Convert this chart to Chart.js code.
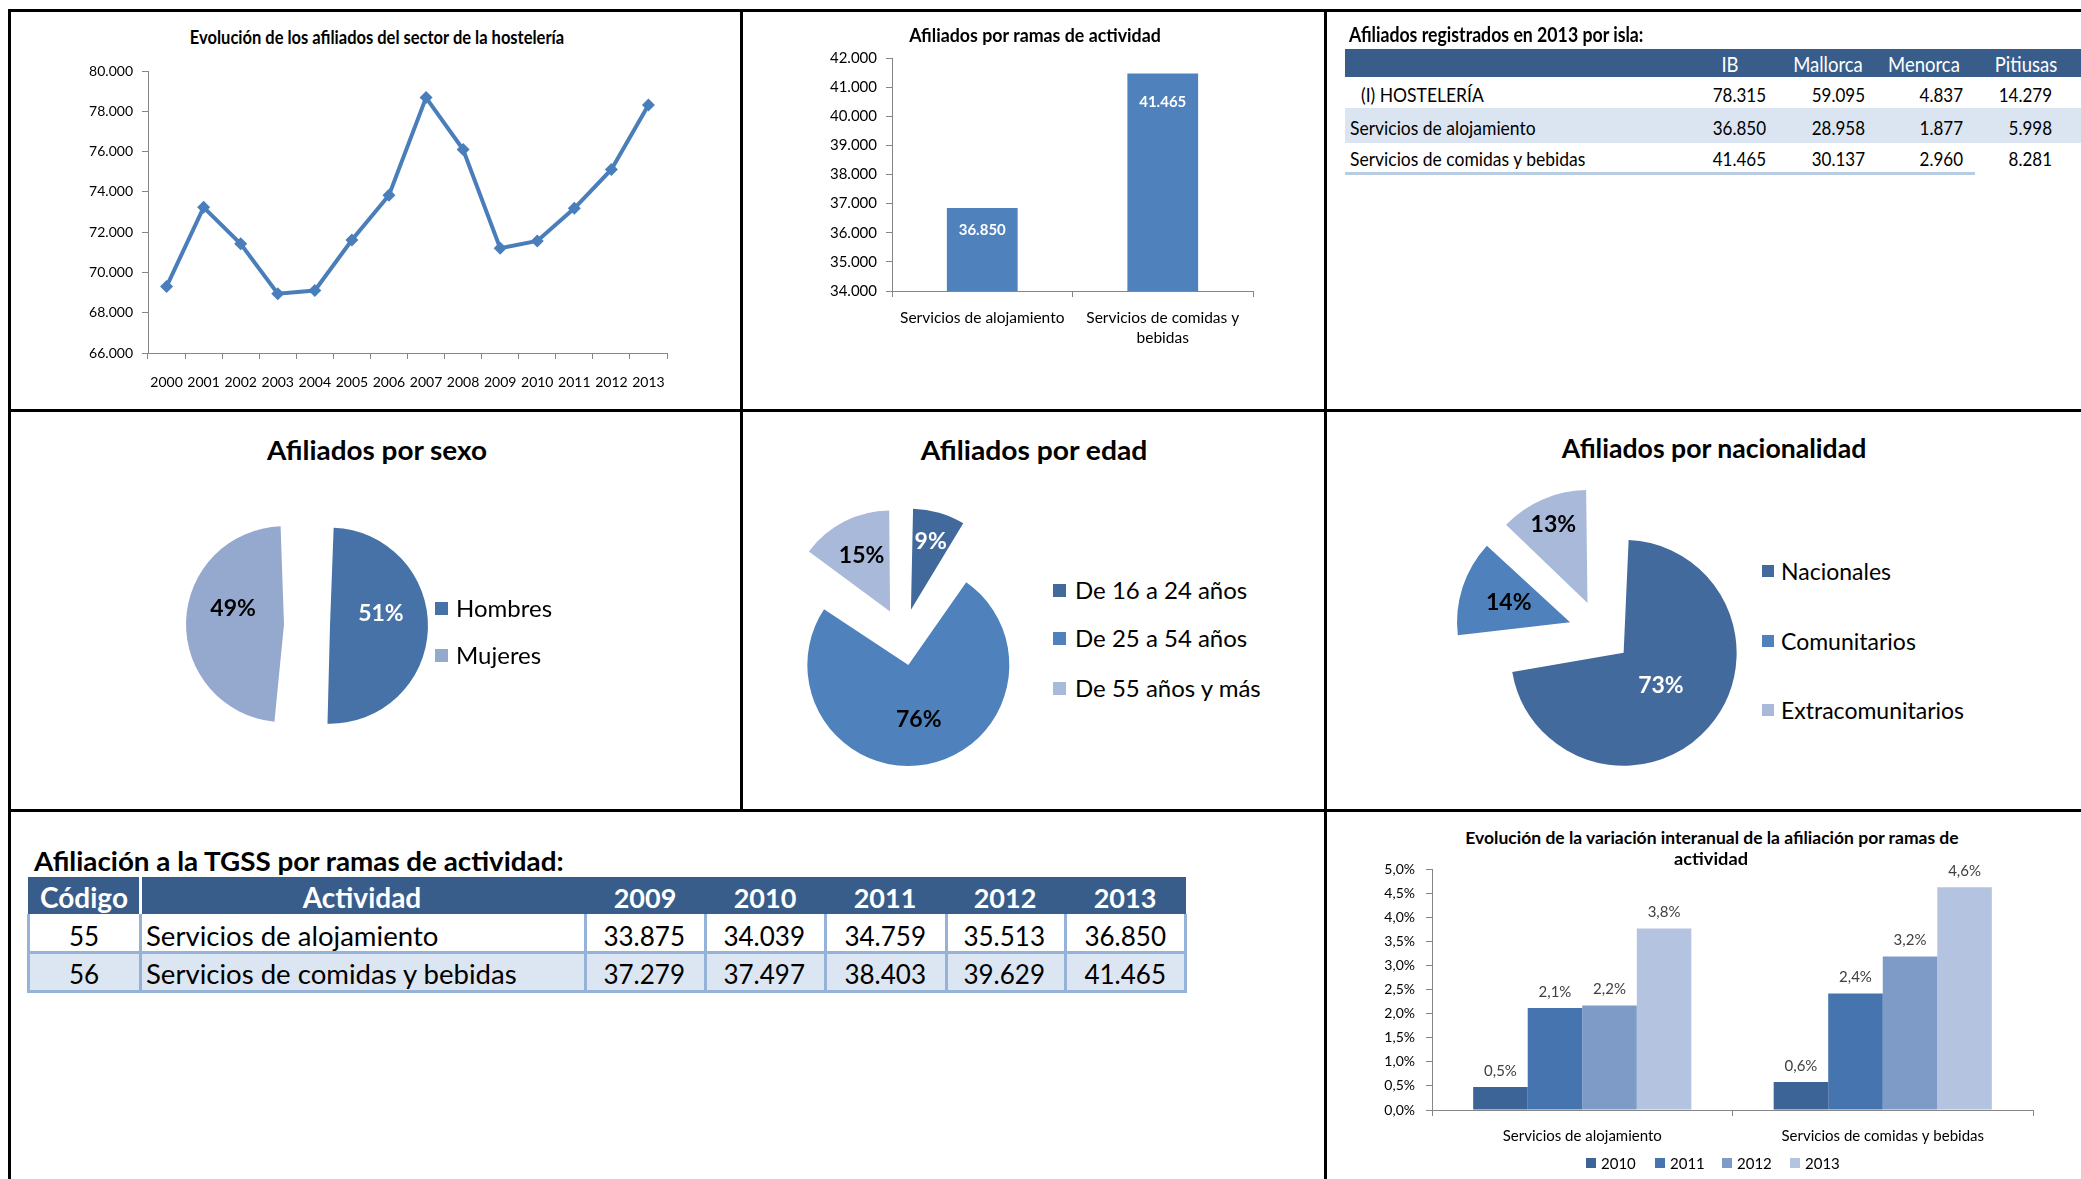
<!DOCTYPE html>
<html lang="es">
<head>
<meta charset="utf-8">
<title>Afiliados del sector de la hostelería</title>
<script src="https://cdn.jsdelivr.net/npm/chart.js@4.4.1/dist/chart.umd.min.js"></script>
<style>
  html, body { margin: 0; padding: 0; background: #fff; }
  body { position: relative; width: 2081px; height: 1179px; overflow: hidden; font-family: Lato, 'Noto Sans', sans-serif; }
  canvas { position: absolute; }
  .t { position: absolute; white-space: nowrap; line-height: 1; z-index: 2; }
  .r { position: absolute; z-index: 1; }
</style>
</head>
<body>
<canvas id="cLinea" width="680" height="340" style="left:20px;top:50px"></canvas>
<canvas id="cRamas" width="570" height="330" style="left:750px;top:40px"></canvas>
<canvas id="cSexo" width="300" height="300" style="left:157px;top:475px"></canvas>
<canvas id="cEdad" width="320" height="320" style="left:743px;top:477px"></canvas>
<canvas id="cNac" width="320" height="320" style="left:1440px;top:472px"></canvas>
<canvas id="cVar" width="740" height="329" style="left:1335px;top:850px"></canvas>
<script>
// Datos
const years = ['2000', '2001', '2002', '2003', '2004', '2005', '2006', '2007', '2008', '2009', '2010', '2011', '2012', '2013'];
const afiliadosTotal = [69300, 73230, 71420, 68940, 69100, 71610, 73830, 78680, 76100, 71200, 71560, 73180, 75110, 78315];

const ramasEje = [['Servicios de alojamiento'], ['Servicios de comidas y', 'bebidas']];
const afiliadosRamas = [36850, 41465];

const islas = ['IB', 'Mallorca', 'Menorca', 'Pitiusas'];
const filasIsla = ['(I) HOSTELERÍA', 'Servicios de alojamiento', 'Servicios de comidas y bebidas'];
const islaHosteleria = [78315, 59095, 4837, 14279];
const islaAlojamiento = [36850, 28958, 1877, 5998];
const islaComidas = [41465, 30137, 2960, 8281];

const sexos = ['Hombres', 'Mujeres'];
const pctSexo = [51, 49];
const edades = ['De 16 a 24 años', 'De 25 a 54 años', 'De 55 años y más'];
const pctEdad = [9, 76, 15];
const nacionalidades = ['Nacionales', 'Comunitarios', 'Extracomunitarios'];
const pctNacionalidad = [73, 14, 13];

const tgssAnios = ['2009', '2010', '2011', '2012', '2013'];
const tgssCodigos = ['55', '56'];
const tgssActividades = ['Servicios de alojamiento', 'Servicios de comidas y bebidas'];
const tgssAlojamiento = [33875, 34039, 34759, 35513, 36850];
const tgssComidas = [37279, 37497, 38403, 39629, 41465];

const variacionRamas = ['Servicios de alojamiento', 'Servicios de comidas y bebidas'];
const variacionAnios = ['2010', '2011', '2012', '2013'];
const variacionAlojamiento = [0.48, 2.12, 2.17, 3.77];
const variacionComidas = [0.58, 2.42, 3.19, 4.63];

// Estilos
const ejeColor = '#868686';
const azulLinea = '#4A7EBB';
const azulBarra = '#4F81BD';
const cabeceraTabla = '#385D8A';
const coloresSexo = ['#4672A8', '#95A9CF'];
const coloresEdad = ['#41699C', '#4F81BD', '#A9B9D9'];
const coloresNac = ['#426A9C', '#4F81BD', '#A9B9D9'];
const coloresVar = ['#3C6496', '#4674AE', '#7E9BC8', '#B4C3DF'];

Chart.defaults.font.family = "Lato, 'Noto Sans', sans-serif";
Chart.defaults.color = '#000';

function fmtMiles(n) {
  return String(n).replace(/\B(?=(\d{3})+(?!\d))/g, '.');
}
function fmtPct(v) {
  return v.toFixed(1).replace('.', ',') + '%';
}

// Texto posicionado (x,y = ancla, y centrada)
function txt(str, x, y, o = {}) {
  const d = document.createElement('div');
  d.className = 't';
  d.textContent = str;
  d.style.left = x + 'px';
  d.style.top = y + 'px';
  d.style.fontSize = (o.size || 14) + 'px';
  d.style.fontWeight = o.bold ? '700' : '400';
  d.style.color = o.color || '#000';
  document.body.appendChild(d);
  const align = o.align || 'left';
  let sx = o.sx || 1;
  if (o.w) sx = o.w / d.offsetWidth;
  const tx = align === 'left' ? '0' : align === 'right' ? '-100%' : '-50%';
  const ox = align === 'left' ? '0' : align === 'right' ? '100%' : '50%';
  d.style.transformOrigin = ox + ' 50%';
  d.style.transform = 'translate(' + tx + ', -50%) scaleX(' + sx + ')';
}

function rect(x, y, w, h, color) {
  const d = document.createElement('div');
  d.className = 'r';
  d.style.left = x + 'px';
  d.style.top = y + 'px';
  d.style.width = w + 'px';
  d.style.height = h + 'px';
  d.style.background = color;
  document.body.appendChild(d);
}

// Marco de paneles
rect(8, 9, 2073, 3, '#000');
rect(8, 409, 2073, 3, '#000');
rect(8, 809, 2073, 3, '#000');
rect(8, 9, 3, 1170, '#000');
rect(740, 9, 3, 802, '#000');
rect(1324, 9, 3, 1170, '#000');

// Etiquetas de barras
function barLabels(o) {
  return {
    id: 'barLabels',
    afterDatasetsDraw(chart) {
      const ctx = chart.ctx;
      ctx.save();
      ctx.font = (o.bold ? 'bold ' : '') + o.size + 'px Lato';
      ctx.fillStyle = o.color;
      ctx.textAlign = 'center';
      ctx.textBaseline = 'middle';
      chart.data.datasets.forEach((ds, di) => {
        chart.getDatasetMeta(di).data.forEach((bar, i) => {
          const dy = Array.isArray(o.dy) ? o.dy[i] : o.dy;
          ctx.fillText(o.format(ds.data[i]), bar.x, bar.y + dy);
        });
      });
      ctx.restore();
    }
  };
}

// Porciones separadas: Chart.js desplaza offset/4 y agranda el radio, se corrige aquí
function pieExplode(radius) {
  return {
    id: 'pieExplode',
    beforeDatasetDraw(chart, args) {
      chart.getDatasetMeta(args.index).data.forEach(arc => {
        const t = (arc.options.offset || 0) / 4;
        const fix = 1 - Math.sin(Math.min(Math.PI, arc.circumference));
        arc.outerRadius = radius - t * fix;
      });
    }
  };
}

function pieLabels(o) {
  return {
    id: 'pieLabels',
    afterDatasetsDraw(chart) {
      const ctx = chart.ctx;
      const ds = chart.data.datasets[0];
      ctx.save();
      ctx.font = 'bold ' + o.size + 'px Lato';
      ctx.textAlign = 'center';
      ctx.textBaseline = 'middle';
      chart.getDatasetMeta(0).data.forEach((arc, i) => {
        const h = (arc.startAngle + arc.endAngle) / 2;
        const d = (arc.options.offset || 0) / 4 + o.radius * o.pos[i];
        ctx.fillStyle = o.colors[i];
        ctx.fillText(ds.data[i] + '%', arc.x + Math.cos(h) * d, arc.y + Math.sin(h) * d + (o.dy || 0));
      });
      ctx.restore();
    }
  };
}

function ejes(extra) {
  return Object.assign({
    grid: { drawOnChartArea: false, tickLength: 6, color: ejeColor },
    border: { color: ejeColor }
  }, extra);
}

// 1. Evolución de los afiliados
txt('Evolución de los afiliados del sector de la hostelería', 377, 37, { size: 18, bold: true, align: 'center', w: 374 });
new Chart(document.getElementById('cLinea'), {
  type: 'line',
  data: {
    labels: years,
    datasets: [{
      data: afiliadosTotal,
      borderColor: azulLinea,
      backgroundColor: azulLinea,
      borderWidth: 4,
      pointStyle: 'rectRot',
      pointRadius: 6.5,
      pointBorderWidth: 0,
      tension: 0
    }]
  },
  options: {
    responsive: false, animation: false, devicePixelRatio: 1,
    layout: { padding: { top: 21, right: 33, left: 0, bottom: 0 } },
    plugins: { legend: { display: false }, tooltip: { enabled: false } },
    scales: {
      x: ejes({
        offset: true,
        grid: { offset: true, drawOnChartArea: false, tickLength: 6, color: ejeColor },
        ticks: { font: { size: 14 }, padding: 15, maxRotation: 0, autoSkip: false },
        afterFit: s => { s.height = 37; }
      }),
      y: ejes({
        min: 66000, max: 80000,
        ticks: { stepSize: 2000, font: { size: 14 }, padding: 9, callback: v => fmtMiles(v) },
        afterFit: s => { s.width = 128; }
      })
    }
  }
});

// 2. Afiliados por ramas de actividad
txt('Afiliados por ramas de actividad', 1035, 35, { size: 18, bold: true, align: 'center', w: 252 });
new Chart(document.getElementById('cRamas'), {
  type: 'bar',
  data: {
    labels: ramasEje,
    datasets: [{ data: afiliadosRamas, backgroundColor: azulBarra, barPercentage: 0.4, categoryPercentage: 0.98 }]
  },
  options: {
    responsive: false, animation: false, devicePixelRatio: 1,
    layout: { padding: { top: 15, right: 67, left: 0, bottom: 0 } },
    plugins: { legend: { display: false }, tooltip: { enabled: false } },
    scales: {
      x: ejes({
        grid: { offset: true, drawOnChartArea: false, tickLength: 6, color: ejeColor },
        ticks: { font: { size: 15.5, lineHeight: 1.3 }, padding: 11, maxRotation: 0 },
        afterFit: s => { s.height = 79; }
      }),
      y: ejes({
        min: 34000, max: 42000,
        ticks: { stepSize: 1000, font: { size: 15 }, padding: 9, callback: v => fmtMiles(v) },
        afterFit: s => { s.width = 142; }
      })
    }
  },
  plugins: [barLabels({ size: 15, bold: true, color: '#fff', dy: [22, 29], format: fmtMiles })]
});

// 3. Afiliados registrados en 2013 por isla
txt('Afiliados registrados en 2013 por isla:', 1349, 33, { size: 21, bold: true, w: 294 });
rect(1345, 49, 736, 28, cabeceraTabla);
rect(1345, 108, 736, 35, '#DBE5F1');
rect(1345, 172, 630, 3, '#B8CCE4');
const islaCentros = [1730, 1828, 1924, 2026];
const islaDerechas = [1766, 1865, 1963, 2052];
islas.forEach((isla, i) => txt(isla, islaCentros[i], 63, { size: 21, color: '#fff', align: 'center', sx: 0.88 }));
const islaFilas = [islaHosteleria, islaAlojamiento, islaComidas];
const islaY = [94, 127, 158];
filasIsla.forEach((fila, r) => {
  txt(fila, r === 0 ? 1361 : 1350, islaY[r], { size: 20, sx: 0.875 });
  islaFilas[r].forEach((v, i) => txt(fmtMiles(v), islaDerechas[i], islaY[r], { size: 20, align: 'right', sx: 0.85 }));
});

// 4. Afiliados por sexo
txt('Afiliados por sexo', 377, 450, { size: 26, bold: true, align: 'center', w: 220 });
new Chart(document.getElementById('cSexo'), {
  type: 'pie',
  data: {
    labels: sexos,
    datasets: [{ data: pctSexo, backgroundColor: coloresSexo, borderWidth: 0, offset: [92, 92], radius: 98 }]
  },
  options: {
    responsive: false, animation: false, devicePixelRatio: 1,
    plugins: { legend: { display: false }, tooltip: { enabled: false } }
  },
  plugins: [pieExplode(98), pieLabels({ size: 23, radius: 98, pos: [0.52, 0.52], dy: -14, colors: ['#fff', '#000'] })]
});
sexos.forEach((s, i) => {
  const y = [608, 655][i];
  rect(435, y - 6, 13, 13, coloresSexo[i]);
  txt(s, 456, y, { size: 24 });
});

// 5. Afiliados por edad
txt('Afiliados por edad', 1034, 450, { size: 26, bold: true, align: 'center', w: 227 });
new Chart(document.getElementById('cEdad'), {
  type: 'pie',
  data: {
    labels: edades,
    datasets: [{ data: pctEdad, backgroundColor: coloresEdad, borderWidth: 0, offset: [114, 114, 114], radius: 101 }]
  },
  options: {
    responsive: false, animation: false, devicePixelRatio: 1,
    plugins: { legend: { display: false }, tooltip: { enabled: false } }
  },
  plugins: [pieExplode(101), pieLabels({ size: 23, radius: 101, pos: [0.7, 0.55, 0.62], colors: ['#fff', '#000', '#000'] })]
});
edades.forEach((s, i) => {
  const y = [590, 638, 688][i];
  rect(1053, y - 6, 13, 13, coloresEdad[i]);
  txt(s, 1075, y, { size: 24 });
});

// 6. Afiliados por nacionalidad
txt('Afiliados por nacionalidad', 1714, 448, { size: 26, bold: true, align: 'center', w: 305 });
new Chart(document.getElementById('cNac'), {
  type: 'pie',
  data: {
    labels: nacionalidades,
    datasets: [{ data: pctNacionalidad, backgroundColor: coloresNac, borderWidth: 0, offset: [126, 126, 126], radius: 113 }]
  },
  options: {
    responsive: false, animation: false, devicePixelRatio: 1,
    plugins: { legend: { display: false }, tooltip: { enabled: false } }
  },
  plugins: [pieExplode(113), pieLabels({ size: 23, radius: 113, pos: [0.44, 0.57, 0.76], colors: ['#fff', '#000', '#000'] })]
});
nacionalidades.forEach((s, i) => {
  const y = [571, 641, 710][i];
  rect(1762, y - 6, 12, 12, coloresNac[i]);
  txt(s, 1781, y, { size: 23 });
});

// 7. Afiliación a la TGSS por ramas de actividad
txt('Afiliación a la TGSS por ramas de actividad:', 34, 860, { size: 27, bold: true, w: 530 });
rect(28, 877, 1158, 37, cabeceraTabla);
rect(28, 953, 1158, 39, '#DCE6F2');
rect(28, 951, 1158, 3, '#95B3D7');
rect(28, 990, 1158, 3, '#95B3D7');
[28, 140, 585, 705, 825, 946, 1065, 1185].forEach(x => rect(x - 1, 914, 3, 79, '#95B3D7'));
rect(139, 877, 3, 37, '#fff');
const tgssCentros = [645, 765, 885, 1005, 1125];
const tgssDerechas = [685, 805, 926, 1045, 1166];
txt('Código', 84, 897, { size: 28, bold: true, color: '#fff', align: 'center' });
txt('Actividad', 362, 897, { size: 28, bold: true, color: '#fff', align: 'center' });
tgssAnios.forEach((a, i) => txt(a, tgssCentros[i], 897, { size: 27, bold: true, color: '#fff', align: 'center' }));
const tgssFilas = [tgssAlojamiento, tgssComidas];
tgssCodigos.forEach((c, r) => {
  const y = [936, 974][r];
  txt(c, 84, y, { size: 26, align: 'center' });
  txt(tgssActividades[r], 146, y, { size: 26, sx: 1.06 });
  tgssFilas[r].forEach((v, i) => txt(fmtMiles(v), tgssDerechas[i], y, { size: 26, align: 'right' }));
});

// 8. Evolución de la variación interanual
txt('Evolución de la variación interanual de la afiliación por ramas de', 1712, 837, { size: 17, bold: true, align: 'center', w: 493 });
txt('actividad', 1711, 858, { size: 17, bold: true, align: 'center', w: 74 });
new Chart(document.getElementById('cVar'), {
  type: 'bar',
  data: {
    labels: variacionRamas,
    datasets: variacionAnios.map((a, i) => ({
      label: a,
      data: [variacionAlojamiento[i], variacionComidas[i]],
      backgroundColor: coloresVar[i],
      categoryPercentage: 0.726,
      barPercentage: 1
    }))
  },
  options: {
    responsive: false, animation: false, devicePixelRatio: 1,
    layout: { padding: { top: 17, right: 42, left: 0, bottom: 0 } },
    plugins: { legend: { display: false }, tooltip: { enabled: false } },
    scales: {
      x: ejes({
        grid: { offset: true, drawOnChartArea: false, tickLength: 6, color: ejeColor },
        ticks: { font: { size: 15 }, padding: 11, maxRotation: 0 },
        afterFit: s => { s.height = 69; }
      }),
      y: ejes({
        min: 0, max: 5,
        ticks: { stepSize: 0.5, font: { size: 14 }, padding: 11, callback: v => fmtPct(v) },
        afterFit: s => { s.width = 97; }
      })
    }
  },
  plugins: [barLabels({ size: 15, color: '#404040', dy: -16, format: fmtPct })]
});
variacionAnios.forEach((a, i) => {
  const xs = [1586, 1655, 1722, 1790][i];
  rect(xs, 1158, 10, 10, coloresVar[i]);
  txt(a, xs + 15, 1163, { size: 15 });
});
</script>
</body>
</html>
